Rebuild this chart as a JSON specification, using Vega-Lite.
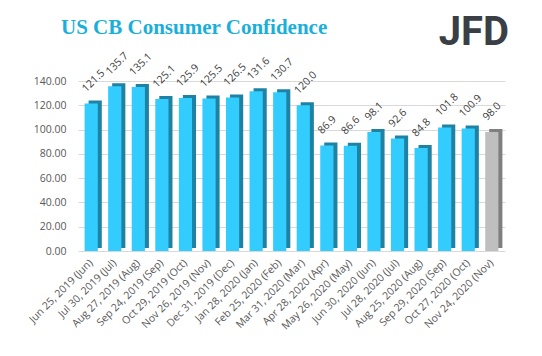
{
  "$schema": "https://vega.github.io/schema/vega-lite/v6.json",
  "autosize": "none",
  "width": 427,
  "height": 170,
  "padding": {"left": 78, "top": 81, "right": 37, "bottom": 105},
  "background": "white",
  "title": {
    "text": "US CB Consumer Confidence",
    "font": "Liberation Serif",
    "fontSize": 21,
    "fontWeight": "bold",
    "color": "#1aafdb",
    "anchor": "start",
    "frame": "group",
    "dx": -17,
    "offset": -25
  },
  "config": {"view": {"stroke": null}},
  "resolve": {"axis": {"x": "independent", "y": "independent"}},
  "data": {
    "values": [
      {"date": "Jun 25, 2019 (Jun)", "value": 121.5, "type": "actual"},
      {"date": "Jul 30, 2019 (Jul)", "value": 135.7, "type": "actual"},
      {"date": "Aug 27, 2019 (Aug)", "value": 135.1, "type": "actual"},
      {"date": "Sep 24, 2019 (Sep)", "value": 125.1, "type": "actual"},
      {"date": "Oct 29, 2019 (Oct)", "value": 125.9, "type": "actual"},
      {"date": "Nov 26, 2019 (Nov)", "value": 125.5, "type": "actual"},
      {"date": "Dec 31, 2019 (Dec)", "value": 126.5, "type": "actual"},
      {"date": "Jan 28, 2020 (Jan)", "value": 131.6, "type": "actual"},
      {"date": "Feb 25, 2020 (Feb)", "value": 130.7, "type": "actual"},
      {"date": "Mar 31, 2020 (Mar)", "value": 120.0, "type": "actual"},
      {"date": "Apr 28, 2020 (Apr)", "value": 86.9, "type": "actual"},
      {"date": "May 26, 2020 (May)", "value": 86.6, "type": "actual"},
      {"date": "Jun 30, 2020 (Jun)", "value": 98.1, "type": "actual"},
      {"date": "Jul 28, 2020 (Jul)", "value": 92.6, "type": "actual"},
      {"date": "Aug 25, 2020 (Aug)", "value": 84.8, "type": "actual"},
      {"date": "Sep 29, 2020 (Sep)", "value": 101.8, "type": "actual"},
      {"date": "Oct 27, 2020 (Oct)", "value": 100.9, "type": "actual"},
      {"date": "Nov 24, 2020 (Nov)", "value": 98.0, "type": "forecast"}
    ]
  },
  "layer": [
    {
      "mark": {"type": "bar", "xOffset": 4, "yOffset": -3},
      "encoding": {
        "x": {"field": "date", "type": "nominal", "sort": null, "scale": {"paddingInner": 0.44, "paddingOuter": 0.28},
          "axis": {"title": null, "labelAngle": -45, "labelAlign": "right", "labelBaseline": "middle", "labelPadding": 10, "labelFont": "Open Sans", "labelFontSize": 10.5, "labelColor": "#595959", "domain": false, "ticks": false, "labelOverlap": false}},
        "y": {"field": "value", "type": "quantitative", "scale": {"domain": [0, 140], "nice": false},
          "axis": {"title": null, "values": [0, 20, 40, 60, 80, 100, 120, 140], "format": ".2f", "grid": true, "gridColor": "#d9d9d9", "domain": false, "ticks": false, "labelFont": "Open Sans", "labelFontSize": 10.5, "labelColor": "#595959", "labelPadding": 12, "labelOverlap": false, "labelFlush": false}},
        "color": {"condition": {"test": "datum.type == 'forecast'", "value": "#7f7f7f"}, "value": "#1f82a3"}
      }
    },
    {
      "mark": {"type": "bar"},
      "encoding": {
        "x": {"field": "date", "type": "nominal", "sort": null, "axis": null},
        "y": {"field": "value", "type": "quantitative", "axis": null},
        "color": {"condition": {"test": "datum.type == 'forecast'", "value": "#bfbfbf"}, "value": "#33ccff"}
      }
    },
    {
      "mark": {"type": "text", "angle": -45, "align": "left", "baseline": "middle", "xOffset": -7, "yOffset": -13, "font": "Open Sans", "fontSize": 10.5, "color": "#404040"},
      "encoding": {
        "x": {"field": "date", "type": "nominal", "sort": null, "axis": null},
        "y": {"field": "value", "type": "quantitative", "axis": null},
        "text": {"field": "value", "type": "quantitative", "format": ".1f"}
      }
    },
    {
      "data": {"values": [{"logo": "JFD"}]},
      "mark": {"type": "text", "align": "center", "baseline": "alphabetic", "xOffset": -18, "font": "Roboto", "fontWeight": "bold", "fontSize": 40, "color": "#3a3f45", "clip": false},
      "encoding": {
        "x": {"datum": "Nov 24, 2020 (Nov)", "axis": null},
        "y": {"datum": 169.5, "axis": null},
        "text": {"field": "logo", "type": "nominal"}
      }
    }
  ]
}
